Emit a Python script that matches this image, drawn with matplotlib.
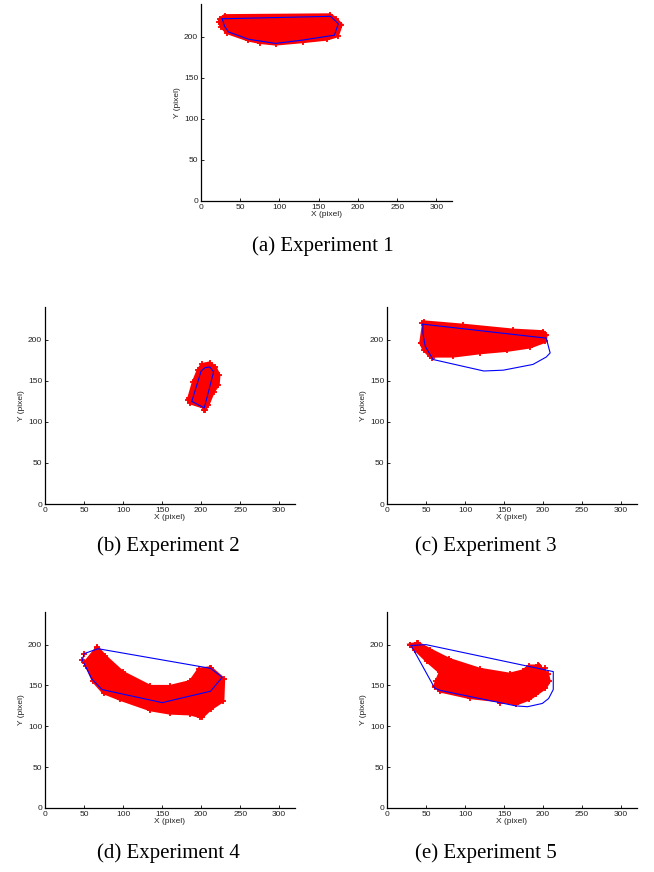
import matplotlib
matplotlib.use("Agg")
import matplotlib.pyplot as plt

plt.rcParams['font.family'] = ['Liberation Sans', 'DejaVu Sans']

# outline of the tracked red point cloud and convex hull for each experiment
cloud_x1 = [24, 30, 165, 172, 179, 174, 160, 130, 95, 75, 60, 33, 26, 23]
cloud_y1 = [222, 226, 227, 222, 215, 201, 197, 194, 191, 193, 196, 205, 212, 218]
hull_x1 = [27, 165, 175, 170, 129, 95, 61, 35, 30]
hull_y1 = [222, 225, 216, 202, 196, 192, 197, 206, 213]
stray_x1 = [25, 176]
stray_y1 = [220, 214]

cloud_x2 = [184, 190, 196, 201, 211, 218, 223, 222, 216, 209, 205, 202, 186, 183]
cloud_y2 = [129, 149, 163, 170, 172, 167, 157, 145, 137, 121, 115, 118, 123, 127]
hull_x2 = [188, 200, 205, 211, 216, 204]
hull_y2 = [125, 162, 166, 167, 161, 117]
stray_x2 = [204]
stray_y2 = [115]

cloud_x3 = [47, 97, 161, 200, 204, 203, 183, 154, 119, 85, 55, 47, 43]
cloud_y3 = [222, 218, 212, 210, 206, 198, 191, 187, 184, 180, 180, 188, 196]
hull_x3 = [46, 204, 209, 204, 187, 149, 124, 59, 49, 46]
hull_y3 = [219, 202, 184, 179, 170, 163, 162, 176, 192, 208]
stray_x3 = [45, 44, 58]
stray_y3 = [220, 196, 178]

cloud_x4 = [51, 67, 77, 100, 135, 160, 186, 197, 212, 229, 228, 212, 201, 186, 160, 135, 96, 75, 62, 53]
cloud_y4 = [178, 197, 186, 166, 149, 149, 155, 170, 172, 158, 131, 121, 111, 115, 116, 120, 133, 141, 155, 174]
hull_x4 = [48, 50, 68, 212, 227, 212, 150, 73, 60]
hull_y4 = [181, 189, 195, 171, 160, 143, 129, 145, 158]
stray_x4 = [48, 50, 67, 70, 211, 199]
stray_y4 = [181, 188, 196, 187, 172, 112]

cloud_x5 = [29, 40, 55, 80, 119, 157, 174, 182, 195, 206, 208, 203, 191, 182, 165, 144, 106, 68, 61, 63, 68, 51, 36]
cloud_y5 = [200, 202, 194, 182, 170, 164, 168, 174, 174, 164, 155, 147, 139, 133, 127, 131, 135, 143, 149, 155, 166, 180, 194]
hull_x5 = [31, 50, 213, 213, 207, 199, 180, 165, 68, 61]
hull_y5 = [199, 200, 167, 145, 134, 128, 124, 125, 144, 147]
stray_x5 = [30, 38, 193, 203, 62, 145]
stray_y5 = [199, 202, 175, 172, 148, 129]

captions = ['(a) Experiment 1', '(b) Experiment 2', '(c) Experiment 3',
            '(d) Experiment 4', '(e) Experiment 5']
clouds = [(cloud_x1, cloud_y1), (cloud_x2, cloud_y2), (cloud_x3, cloud_y3),
          (cloud_x4, cloud_y4), (cloud_x5, cloud_y5)]
hulls = [(hull_x1, hull_y1), (hull_x2, hull_y2), (hull_x3, hull_y3),
         (hull_x4, hull_y4), (hull_x5, hull_y5)]
strays = [(stray_x1, stray_y1), (stray_x2, stray_y2), (stray_x3, stray_y3),
          (stray_x4, stray_y4), (stray_x5, stray_y5)]

rects = [[0.3073, 0.7695, 0.384, 0.2259],
         [0.0688, 0.422, 0.382, 0.226],
         [0.5917, 0.422, 0.382, 0.226],
         [0.0688, 0.0734, 0.382, 0.2248],
         [0.5917, 0.0734, 0.382, 0.2248]]
cap_pos = [(0.493, 0.718), (0.257, 0.374), (0.743, 0.374),
           (0.257, 0.022), (0.743, 0.022)]

fig = plt.figure(figsize=(6.54, 8.72), dpi=100)

for i in range(5):
    ax = fig.add_axes(rects[i])
    cx, cy = clouds[i]
    hx, hy = hulls[i]
    sx, sy = strays[i]
    ax.fill(cx, cy, color='red', lw=2, zorder=2)
    ax.plot(cx, cy, '+', color='red', ms=5, mew=1.3, zorder=2)
    ax.plot(sx, sy, '+', color='red', ms=5, mew=1.3, zorder=2)
    ax.plot(hx + hx[:1], hy + hy[:1], color='blue', lw=0.8, zorder=3)

    ax.set_xlim(0, 320)
    ax.set_ylim(0, 240)
    ax.set_xticks(range(0, 301, 50))
    ax.set_yticks(range(0, 201, 50))
    for s in ['top', 'right']:
        ax.spines[s].set_visible(False)
    for s in ['left', 'bottom']:
        ax.spines[s].set_linewidth(0.9)
    ax.tick_params(direction='in', length=2.5, width=0.6, labelsize=6,
                   labelcolor='#222222', pad=2)
    ax.set_xlabel('X (pixel)', fontsize=6, labelpad=0.5, color='#222222')
    ax.set_ylabel('Y (pixel)', fontsize=6, labelpad=2, color='#222222')

    fig.text(cap_pos[i][0], cap_pos[i][1], captions[i], ha='center', va='center',
             fontsize=15, family=['Liberation Serif', 'DejaVu Serif'])

fig.savefig('out.png', dpi=100)
